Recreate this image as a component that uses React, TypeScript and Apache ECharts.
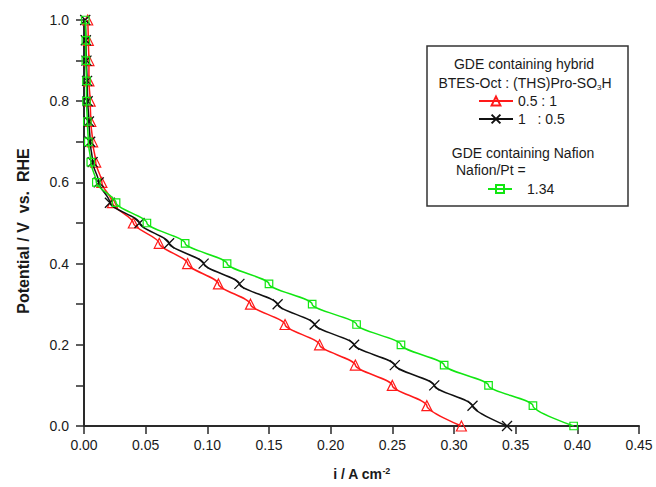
import React, { useEffect, useRef } from 'react';
import * as echarts from 'echarts';

// Potential (V vs. RHE) at each marker
const potentials = [1.0, 0.95, 0.9, 0.85, 0.8, 0.75, 0.7, 0.65, 0.6, 0.55, 0.5, 0.45, 0.4, 0.35, 0.3, 0.25, 0.2, 0.15, 0.1, 0.05, 0.0];
// Current density i (A cm^-2) for each curve
const currentHybrid051 = [0.003, 0.0035, 0.004, 0.004, 0.005, 0.0055, 0.007, 0.0095, 0.0145, 0.023, 0.040, 0.061, 0.084, 0.109, 0.135, 0.163, 0.191, 0.220, 0.250, 0.278, 0.306];
const currentHybrid105 = [0.001, 0.0015, 0.002, 0.0025, 0.003, 0.004, 0.005, 0.007, 0.012, 0.021, 0.045, 0.069, 0.097, 0.126, 0.157, 0.187, 0.219, 0.252, 0.284, 0.315, 0.343];
const currentNafion = [0.001, 0.0015, 0.0015, 0.002, 0.002, 0.0027, 0.0035, 0.0055, 0.010, 0.026, 0.051, 0.082, 0.116, 0.150, 0.185, 0.221, 0.257, 0.292, 0.328, 0.364, 0.397];

const seriesNames = ['0.5 : 1', '1   : 0.5', '1.34'];
const legendHeader1 = 'GDE containing hybrid';
const legendHeader2 = 'BTES-Oct : (THS)Pro-SO{sub|3}H';
const legendHeader3 = 'GDE containing Nafion';
const legendHeader4 = 'Nafion/Pt =';
const xAxisTitle = 'i / A cm{sup|-2}';
const yAxisTitle = 'Potential / V  vs.  RHE';

const FONT = 'Liberation Sans, Arial, sans-serif';
const TXT = '#1a1a1a';
const AXIS = '#2a2a2a';

const pairs = (cur: number[]) => cur.map((c, k) => [c, potentials[k]]);

export default function App() {
  const ref = useRef<HTMLDivElement>(null);
  useEffect(() => {
    if (!ref.current) return;
    const chart = echarts.init(ref.current, undefined, { renderer: 'svg' });
    const lineCommon = {
      type: 'line' as const,
      smooth: 0.3,
      smoothMonotone: 'y' as const,
      showSymbol: true,
      showAllSymbol: true,
      clip: false,
    };
    chart.setOption({
      animation: false,
      backgroundColor: '#ffffff',
      grid: { left: 84, right: 17, top: 20, bottom: 55.5 },
      xAxis: {
        type: 'value',
        min: 0,
        max: 0.45,
        interval: 0.05,
        name: xAxisTitle,
        nameLocation: 'middle',
        nameGap: 40,
        nameTextStyle: {
          fontFamily: FONT,
          fontSize: 14,
          fontWeight: 'bold',
          color: TXT,
          lineHeight: 16,
          rich: {
            sup: { fontFamily: FONT, fontSize: 9, fontWeight: 'bold', color: TXT, lineHeight: 9, verticalAlign: 'top' },
          },
        },
        axisLine: { show: true, onZero: false, lineStyle: { color: AXIS, width: 2 } },
        axisTick: { show: true, inside: false, length: 8, lineStyle: { color: AXIS, width: 1.5 } },
        axisLabel: {
          fontFamily: FONT,
          fontSize: 14,
          color: TXT,
          margin: 12,
          formatter: (v: number) => v.toFixed(2),
        },
        splitLine: { show: false },
      },
      yAxis: {
        type: 'value',
        min: 0,
        max: 1.0,
        interval: 0.2,
        name: yAxisTitle,
        nameLocation: 'middle',
        nameRotate: 90,
        nameGap: 53,
        nameTextStyle: { fontFamily: FONT, fontSize: 16, fontWeight: 'bold', color: TXT, padding: [0, 16, 0, 0] },
        axisLine: { show: true, onZero: false, lineStyle: { color: AXIS, width: 2 } },
        axisTick: { show: true, inside: false, length: 8, lineStyle: { color: AXIS, width: 1.5 } },
        minorTick: { show: true, splitNumber: 2, length: 8, lineStyle: { color: AXIS, width: 1.5 } },
        axisLabel: {
          fontFamily: FONT,
          fontSize: 14,
          color: TXT,
          margin: 15,
          formatter: (v: number) => v.toFixed(1),
        },
        splitLine: { show: false },
        minorSplitLine: { show: false },
      },
      legend: [
        {
          data: [seriesNames[0], seriesNames[1]],
          orient: 'vertical',
          left: 478,
          top: 93,
          itemWidth: 34,
          itemHeight: 11,
          itemGap: 2,
          padding: 0,
          selectedMode: false,
          textStyle: { fontFamily: FONT, fontSize: 14, color: TXT, lineHeight: 16 },
        },
        {
          data: [seriesNames[2]],
          orient: 'vertical',
          left: 487,
          top: 181,
          itemWidth: 24,
          itemHeight: 10,
          padding: 0,
          selectedMode: false,
          textStyle: { fontFamily: FONT, fontSize: 14, color: TXT, lineHeight: 16, padding: [0, 0, 0, 10] },
        },
      ],
      graphic: [
        {
          type: 'rect',
          shape: { x: 427, y: 46, width: 201, height: 160 },
          style: { fill: '#ffffff', stroke: '#333333', lineWidth: 1.5 },
          z: 0,
          silent: true,
        },
        {
          type: 'text',
          x: 524,
          y: 64,
          style: { text: legendHeader1, fontFamily: FONT, fontSize: 14, fill: TXT, align: 'center', verticalAlign: 'middle' },
          z: 10,
        },
        {
          type: 'text',
          x: 525,
          y: 83,
          style: {
            text: legendHeader2,
            fontFamily: FONT,
            fontSize: 14,
            fill: TXT,
            lineHeight: 16,
            align: 'center',
            verticalAlign: 'middle',
            rich: { sub: { fontFamily: FONT, fontSize: 8, fill: TXT, lineHeight: 8, verticalAlign: 'bottom' } },
          },
          z: 10,
        },
        {
          type: 'text',
          x: 523,
          y: 153,
          style: { text: legendHeader3, fontFamily: FONT, fontSize: 14, fill: TXT, align: 'center', verticalAlign: 'middle' },
          z: 10,
        },
        {
          type: 'text',
          x: 456,
          y: 170,
          style: { text: legendHeader4, fontFamily: FONT, fontSize: 14, fill: TXT, align: 'left', verticalAlign: 'middle' },
          z: 10,
        },
      ],
      series: [
        {
          ...lineCommon,
          name: seriesNames[0],
          data: pairs(currentHybrid051),
          symbol: 'triangle',
          symbolSize: 10,
          lineStyle: { color: '#ff1a1a', width: 1.5 },
          itemStyle: { color: 'none', borderColor: '#ff1a1a', borderWidth: 1.2 },
          z: 3,
        },
        {
          ...lineCommon,
          name: seriesNames[1],
          data: pairs(currentHybrid105),
          symbol: 'path://M0,0L10,10M10,0L0,10',
          symbolSize: 10,
          lineStyle: { color: '#111111', width: 1.5 },
          itemStyle: { color: 'none', borderColor: '#111111', borderWidth: 1.3 },
          z: 4,
        },
        {
          ...lineCommon,
          name: seriesNames[2],
          data: pairs(currentNafion),
          symbol: 'rect',
          symbolSize: 7.5,
          lineStyle: { color: '#12e612', width: 1.5 },
          itemStyle: { color: 'none', borderColor: '#12e612', borderWidth: 1.2 },
          z: 5,
        },
      ],
    });
    return () => chart.dispose();
  }, []);
  return (
    <div
      ref={ref}
      style={{ position: 'fixed', left: 0, top: 0, width: 656, height: 487, background: '#ffffff' }}
    />
  );
}
